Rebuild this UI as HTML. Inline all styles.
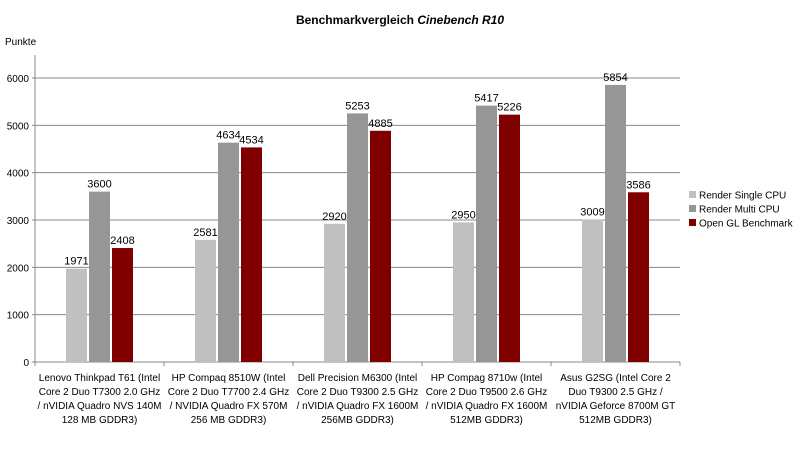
<!DOCTYPE html>
<html><head><meta charset="utf-8"><style>
body{margin:0;background:#fff;font-family:"Liberation Sans",Arial,sans-serif;}
svg text{font-family:"Liberation Sans",Arial,sans-serif;}
</style></head><body>
<svg id="c" width="800" height="447" viewBox="0 0 800 447" xmlns="http://www.w3.org/2000/svg">
<text x="400" y="24" text-anchor="middle" font-size="12" font-weight="bold">Benchmarkvergleich <tspan font-style="italic">Cinebench R10</tspan></text>
<text x="5" y="45" font-size="10">Punkte</text>
<g id="grid"></g><g id="bars"></g><g id="labels"></g><g id="legend"></g>
</svg>
<script>
const categories=[
["Lenovo Thinkpad T61 (Intel","Core 2 Duo T7300 2.0 GHz","/ nVIDIA Quadro NVS 140M","128 MB GDDR3)"],
["HP Compaq 8510W (Intel","Core 2 Duo T7700 2.4 GHz","/ NVIDIA Quadro FX 570M","256 MB GDDR3)"],
["Dell Precision M6300 (Intel","Core 2 Duo T9300 2.5 GHz","/ nVIDIA Quadro FX 1600M","256MB GDDR3)"],
["HP Compag 8710w (Intel","Core 2 Duo T9500 2.6 GHz","/ nVIDIA Quadro FX 1600M","512MB GDDR3)"],
["Asus G2SG (Intel Core 2","Duo T9300 2.5 GHz /","nVIDIA Geforce 8700M GT","512MB GDDR3)"]];
const seriesNames=["Render Single CPU","Render Multi CPU","Open GL Benchmark"];
const single=[1971,2581,2920,2950,3009];
const multi=[3600,4634,5253,5417,5854];
const opengl=[2408,4534,4885,5226,3586];
const ticks=[0,1000,2000,3000,4000,5000,6000];
const colors=["#c0c0c0","#969696","#800000"];
const NS="http://www.w3.org/2000/svg";
const X0=35,X1=680,Y0=362,PER=0.04733,TOP=55;
const y=v=>Y0-v*PER;
const cw=(X1-X0)/categories.length;
function mk(t,a,p){const e=document.createElementNS(NS,t);for(const k in a)e.setAttribute(k,a[k]);p.appendChild(e);return e;}
const g=document.getElementById('grid');
ticks.forEach(t=>{
 if(t>0){const l=mk('line',{x1:X0,x2:X1,y1:y(t),y2:y(t),stroke:'#888','stroke-width':1},g);
 
 }
 const tx=mk('text',{x:X0-6,y:y(t)+4,'text-anchor':'end','font-size':'10'},g);tx.textContent=t;
 
 
 mk('line',{x1:X0-3,x2:X0,y1:y(t),y2:y(t),stroke:'#888'},g);
});
const ax=mk('line',{x1:X0,x2:X0,y1:TOP,y2:Y0,stroke:'#888'},g);


const xa=mk('line',{x1:X0,x2:X1,y1:Y0,y2:Y0,stroke:'#888'},g);


for(let i=0;i<=categories.length;i++)mk('line',{x1:X0+i*cw,x2:X0+i*cw,y1:Y0,y2:Y0+4,stroke:'#888'},g);
const b=document.getElementById('bars'),L=document.getElementById('labels');
const all=[single,multi,opengl],bw=21,gap=2;
categories.forEach((c,i)=>{
 const cx=X0+cw*(i+0.5);
 all.forEach((s,j)=>{
  const bx=cx+(j-1)*(bw+gap)-bw/2;
  const r=mk('rect',{x:bx,y:y(s[i]),width:bw,height:s[i]*PER,fill:colors[j]},b);
  
  
  const t=mk('text',{x:bx+bw/2,y:y(s[i])-4,'text-anchor':'middle','font-size':'11'},L);t.textContent=s[i];
  
  
 });
 c.forEach((line,k)=>{
  const t=mk('text',{x:cx,y:381+k*14,'text-anchor':'middle','font-size':'10'},L);t.textContent=line;
  
  
 });
});
const lg=document.getElementById('legend');
seriesNames.forEach((n,j)=>{
 const yy=195+j*14;
 const r=mk('rect',{x:689,y:yy-4,width:7,height:7,fill:colors[j]},lg);
 
 
 const t=mk('text',{x:699,y:yy+3.5,'font-size':'10'},lg);t.textContent=n;
 
 
});
</script>
</body></html>
